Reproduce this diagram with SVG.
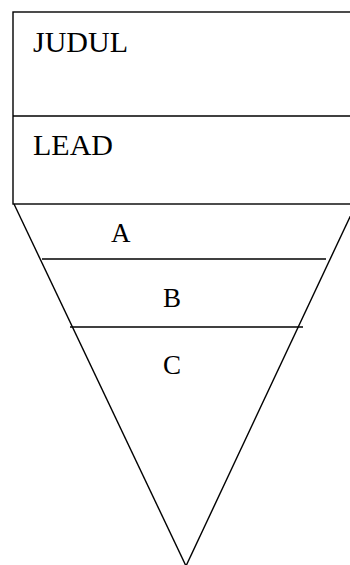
<svg xmlns="http://www.w3.org/2000/svg" width="350" height="565" viewBox="0 0 350 565">
<style>
.ln{stroke:#000;stroke-width:1.4;fill:none}
.t{font-family:"Liberation Serif","Times New Roman",serif;fill:#000}
</style>
<rect width="350" height="565" fill="#fff"/>
<g id="header">
<rect class="ln" x="13" y="12" width="345" height="192"/>
<line class="ln" x1="13" y1="116" x2="358" y2="116"/>
<text class="t" x="33" y="52" font-size="30">JUDUL</text>
<text class="t" x="33" y="155" font-size="30">LEAD</text>
</g>
<g id="pyramid">
<line class="ln" x1="14" y1="204" x2="186" y2="566"/>
<line class="ln" x1="356" y1="204" x2="186" y2="566"/>
</g>
<g id="connectors">
<line class="ln" x1="42" y1="259" x2="326" y2="259"/>
<line class="ln" x1="70" y1="327" x2="303" y2="327"/>
</g>
<g id="labels">
<text class="t" x="111" y="242" font-size="27">A</text>
<text class="t" x="163" y="307" font-size="27">B</text>
<text class="t" x="163" y="374" font-size="27">C</text>
</g>
</svg>
